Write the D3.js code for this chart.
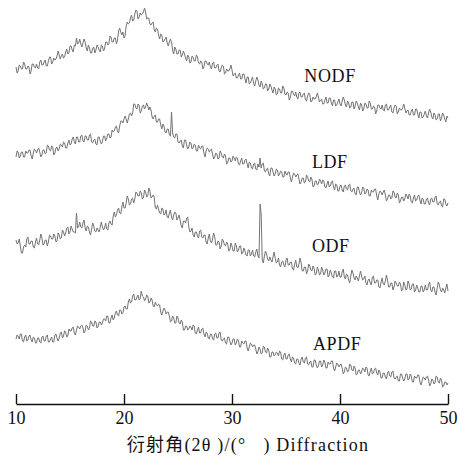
<!DOCTYPE html>
<html><head><meta charset="utf-8">
<script src="https://cdn.jsdelivr.net/npm/d3@7"></script>
<style>html,body{margin:0;padding:0;background:#fff;}svg{display:block;}</style>
</head><body>
<script>
// 2θ sampling: start 10°, step 0.1°
const twoThetaStart = 10, twoThetaStep = 0.1;
const xTicks = [10, 20, 30, 40, 50];
const seriesNames = ["NODF", "LDF", "ODF", "APDF"];
// label anchor (2θ, intensity a.u.)
const labelX = [36.7, 37.4, 37.4, 37.5];
const labelY = [322, 236, 152, 54];
const xTitle = "衍射角(2θ )/(°   ) Diffraction";

// intensities (a.u., stacked with offsets), one value per 0.1° from 10° to 50°
const NODF = [
337,331,333,339,338,335,335,342,340,335,335,338,337,330,333,340,340,337,336,340,
336,335,342,344,339,339,342,344,338,338,343,347,347,340,342,346,344,345,348,353,
349,345,348,350,346,347,352,355,350,351,358,358,354,352,359,358,366,360,361,365,
360,357,361,365,362,356,353,359,356,351,351,356,357,351,354,359,357,354,352,359,
358,353,355,362,362,359,360,368,367,362,362,366,366,360,364,373,376,372,369,372,
366,368,378,382,380,381,386,389,383,384,390,394,393,385,387,391,389,390,392,396,
392,385,386,386,380,379,381,382,374,372,376,375,369,365,370,369,362,363,365,367,
361,358,362,365,362,354,350,357,355,350,350,354,354,347,349,353,350,346,343,349,
347,341,342,348,347,343,343,349,347,341,340,343,342,335,337,343,343,340,339,342,
337,335,341,342,336,336,339,340,333,332,336,339,338,330,331,335,333,333,335,339,
334,328,330,331,326,326,329,331,325,325,330,330,325,321,327,327,320,321,324,327,
321,318,323,327,324,319,317,323,320,315,316,320,320,313,315,320,318,314,311,317,
315,309,310,316,315,311,311,318,316,310,309,312,311,304,306,313,313,310,308,312,
307,305,311,312,307,307,310,311,304,303,308,311,310,302,303,307,305,305,307,311,
307,302,304,305,300,300,304,307,301,301,306,306,301,298,304,304,298,299,302,305,
300,298,303,307,304,299,297,303,301,296,297,302,302,295,298,303,301,297,294,301,
299,293,295,301,300,296,296,303,301,295,295,298,297,290,293,299,299,296,295,299,
294,293,299,300,294,294,297,299,292,291,296,299,298,290,292,296,294,294,296,300,
296,291,293,294,289,289,293,295,289,289,295,295,290,286,292,292,286,287,290,293,
288,286,291,295,292,287,285,291,289,284,285,290,290,283,286,291,289,285,282,288,
286];
const LDF = [
247,253,252,246,248,252,252,247,247,253,251,251,254,254,248,245,251,255,254,251,
254,256,252,247,249,254,254,250,251,259,258,254,253,258,257,249,251,256,257,253,
255,260,259,257,262,261,256,256,261,264,259,260,265,267,262,260,267,267,262,262,
268,269,263,262,268,268,264,264,269,270,262,261,264,265,260,259,267,267,263,260,
262,268,268,263,266,270,270,266,267,274,272,273,277,278,273,271,278,283,283,281,
285,288,285,281,285,290,291,288,291,300,300,296,295,300,299,291,293,298,299,295,
297,301,298,294,297,294,287,285,288,289,282,282,285,285,279,275,280,278,272,271,
275,275,269,268,292,271,267,266,270,270,262,261,263,264,258,256,264,264,259,255,
257,262,261,255,256,260,259,253,253,259,256,255,258,258,251,247,253,256,255,252,
254,255,250,245,247,251,250,245,246,253,251,247,246,250,248,240,241,246,246,242,
243,248,246,243,247,246,240,239,243,246,240,240,244,245,240,236,242,241,236,235,
240,241,235,234,240,237,246,236,240,241,233,232,235,236,230,228,236,236,232,228,
230,235,234,228,230,233,232,227,227,233,230,229,232,232,226,222,227,231,230,227,
229,230,225,220,222,226,226,221,222,229,227,223,222,227,225,217,218,223,223,219,
220,225,223,220,224,223,217,216,220,223,217,218,222,223,217,214,220,219,213,213,
218,219,214,212,218,219,215,214,219,220,213,212,215,216,210,209,217,217,212,209,
211,217,216,210,211,215,214,208,208,214,212,212,215,215,208,204,210,213,212,209,
212,214,209,203,205,209,209,205,206,213,212,207,206,211,209,201,203,207,207,203,
205,210,208,205,210,208,202,201,206,209,203,204,208,209,204,200,206,205,200,200,
205,206,201,199,205,206,202,202,207,208,200,199,202,203,198,197,205,205,200,198,
201];
const ODF = [
164,160,161,165,158,151,151,157,159,157,165,167,160,160,163,163,157,156,162,166,
160,159,164,170,166,159,160,164,164,158,162,169,168,165,165,170,168,162,163,171,
169,165,166,174,172,168,171,176,177,170,172,178,175,172,172,171,191,176,177,182,
177,176,181,184,176,173,178,177,172,169,175,181,178,173,172,176,174,172,177,182,
177,174,176,181,175,174,181,183,180,179,188,192,187,189,194,196,191,190,197,202,
196,196,201,208,205,199,200,205,206,201,205,212,211,208,208,213,211,205,206,214,
212,207,208,216,213,206,207,209,207,196,195,199,195,191,190,196,195,189,190,194,
187,186,191,194,187,184,189,192,191,184,186,189,184,178,176,183,183,181,186,187,
177,172,173,176,169,167,172,172,168,166,173,174,167,166,169,169,162,160,166,170,
163,161,165,171,167,159,159,163,162,155,158,165,163,159,158,162,160,153,154,161,
158,153,153,161,158,152,154,158,158,150,151,156,153,149,148,154,154,148,150,154,
148,147,152,155,148,146,200,190,144,141,148,153,150,145,143,147,144,142,147,152,
146,141,142,146,139,137,142,143,139,137,144,146,139,139,142,142,135,134,140,144,
137,136,140,146,141,133,133,137,137,130,133,140,138,134,133,138,136,129,130,137,
134,129,130,137,134,129,131,135,135,127,129,134,131,127,126,133,133,127,128,133,
127,127,132,135,127,125,130,129,124,121,128,134,131,126,124,128,126,123,128,133,
128,124,125,128,121,119,124,125,121,119,127,128,121,121,124,124,117,116,122,126,
120,119,123,129,124,117,117,121,121,114,117,123,121,118,118,122,120,113,114,122,
119,114,115,123,120,114,115,120,120,112,114,119,116,112,112,118,118,112,114,119,
114,114,119,122,114,112,117,117,112,109,116,122,119,114,112,116,114,111,116,120,
113];
const APDF = [
65,69,68,65,70,70,63,62,67,69,63,64,68,69,64,62,67,66,61,61,
66,66,62,61,67,68,63,63,68,69,62,62,65,67,62,62,69,70,66,63,
66,71,72,66,68,73,72,67,68,75,73,73,76,77,71,69,74,78,77,75,
78,79,76,71,73,79,78,74,76,83,82,78,78,83,82,76,77,82,82,79,
81,85,85,83,88,88,81,81,86,89,84,86,91,93,89,88,94,94,90,91,
97,98,95,95,102,105,101,102,108,110,104,104,107,109,104,105,113,108,107,103,
105,109,108,101,102,106,104,98,97,102,99,98,100,99,92,89,93,96,94,90,
92,92,88,82,83,88,86,81,81,88,86,81,80,84,82,74,74,78,78,74,
75,78,77,74,79,78,71,70,74,77,71,71,75,76,70,67,72,71,66,65,
70,70,65,64,70,71,66,66,71,72,64,63,65,66,61,60,67,67,63,59,
61,65,65,59,61,65,63,57,57,63,61,60,63,63,56,53,57,61,60,57,
59,59,55,50,52,57,55,50,51,58,57,52,51,56,54,47,47,52,52,48,
49,52,51,48,53,52,45,44,49,51,45,45,49,50,45,42,47,46,41,40,
45,45,41,39,45,47,42,41,46,47,40,39,42,43,37,37,44,44,39,36,
38,43,43,37,39,44,42,36,36,42,40,40,43,43,36,33,37,41,40,37,
39,40,36,30,32,37,36,32,33,40,39,34,33,38,36,29,30,34,34,30,
32,36,35,32,37,36,29,28,33,36,30,31,35,36,31,29,34,32,26,26,
31,31,27,25,31,33,28,27,32,33,26,25,27,28,23,23,30,30,26,23,
25,30,30,24,25,30,28,22,22,28,26,26,29,29,22,19,23,27,26,24,
27,28,24,18,20,25,24,20,21,28,27,22,21,26,24,17,18,22,22,19,
21];

const seriesValues = [NODF, LDF, ODF, APDF];

const W = 460, H = 457;
const svg = d3.select("body").append("svg").attr("width", W).attr("height", H);

const x = d3.scaleLinear().domain([10, 50]).range([16, 448]);
const y = d3.scaleLinear().domain([0, 400]).range([404, 4]);

const line = d3.line()
  .x((d, i) => x(twoThetaStart + i * twoThetaStep))
  .y(d => y(d));

svg.append("g").selectAll("path")
  .data(seriesValues)
  .join("path")
  .attr("d", line)
  .attr("fill", "none")
  .attr("stroke", "#747474")
  .attr("stroke-width", 1)
  .attr("stroke-linejoin", "round");

const serif = "'Liberation Serif', 'Times New Roman', 'DejaVu Serif', serif";

svg.append("g").selectAll("text")
  .data(seriesNames)
  .join("text")
  .attr("x", (d, i) => x(labelX[i]))
  .attr("y", (d, i) => y(labelY[i]))
  .style("font-family", serif)
  .style("font-size", "18px")
  .attr("letter-spacing", 0.6)
  .attr("fill", "#111")
  .text(d => d);

const axis = d3.axisBottom(x).tickValues(xTicks).tickSizeInner(-10).tickSizeOuter(0).tickPadding(7);
const gx = svg.append("g").attr("transform", "translate(0,404)").call(axis);
gx.attr("font-family", null).attr("font-size", null);
gx.select(".domain").attr("stroke", "#111").attr("stroke-width", 1.4);
gx.selectAll(".tick line").attr("stroke", "#111").attr("stroke-width", 1.4);
gx.selectAll(".tick text")
  .style("font-family", serif)
  .style("font-size", "18px")
  .attr("fill", "#111");

svg.append("text")
  .attr("x", 248).attr("y", 451)
  .attr("text-anchor", "middle")
  .style("font-family", "'Liberation Serif', 'Noto Sans CJK SC', serif")
  .style("font-size", "18px")
  .attr("letter-spacing", 1.2)
  .attr("fill", "#111")
  .style("white-space", "pre")
  .text(xTitle);
</script>
</body></html>
